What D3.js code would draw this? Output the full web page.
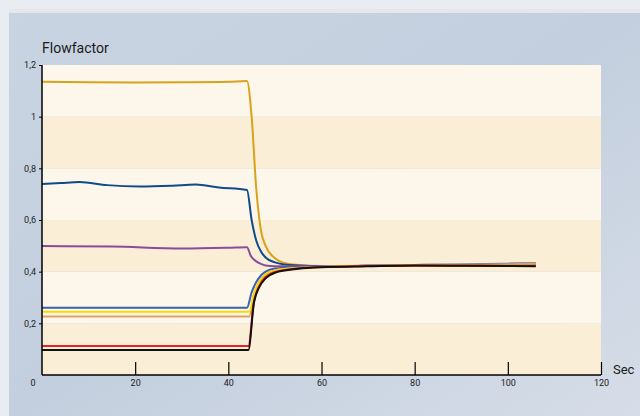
<!DOCTYPE html>
<html><head><meta charset="utf-8">
<script src="https://cdn.jsdelivr.net/npm/d3@7"></script>
<style>body{margin:0;padding:0;overflow:hidden}svg{display:block}</style>
</head><body>
<svg id="chart" width="640" height="416"></svg>
<script>
// ---- data ----
const xTicks = [20, 40, 60, 80, 100, 120];
const yTicks = [0.2, 0.4, 0.6, 0.8, 1, 1.2];
const yTickLabels = ["0,2", "0,4", "0,6", "0,8", "1", "1,2"];
const seriesNames = ["gold", "darkblue", "purple", "blue", "tan", "yellow", "red", "black"];
const seriesColors = ["#d8a21c", "#0f4a8c", "#8a4b9e", "#3c5fae", "#dea264", "#f2dc00", "#e0262a", "#111111"];

const gold = [[0,1.135],[10,1.133],[20,1.132],[30,1.133],[40,1.135],[44,1.138],[45,1.0],[46,0.72],[47,0.56],[48,0.5],[50,0.452],[52,0.434],[55,0.426],[60,0.422],[70,0.423],[80,0.425],[90,0.424],[100,0.423],[106,0.422]];
const darkblue = [[0,0.739],[4,0.743],[8,0.747],[14,0.735],[21,0.730],[28,0.733],[33,0.737],[38,0.726],[44,0.716],[45,0.6],[46,0.52],[47,0.478],[48,0.455],[50,0.436],[52,0.428],[55,0.424],[60,0.421],[70,0.423],[80,0.425],[90,0.425],[100,0.426],[106,0.427]];
const purple = [[0,0.499],[15,0.497],[30,0.490],[40,0.493],[44,0.495],[44.8,0.462],[46,0.44],[47,0.43],[48,0.424],[50,0.421],[55,0.421],[60,0.421],[70,0.423],[80,0.425],[90,0.425],[100,0.426],[106,0.428]];
const blue = [[0,0.26],[20,0.26],[44,0.26],[45,0.32],[46,0.36],[47,0.385],[48,0.4],[50,0.412],[55,0.418],[60,0.42],[70,0.423],[80,0.426],[90,0.428],[100,0.431],[106,0.433]];
const tan = [[0,0.226],[20,0.226],[44.5,0.226],[45.5,0.31],[46.5,0.355],[48,0.39],[50,0.405],[55,0.415],[60,0.419],[70,0.423],[80,0.426],[90,0.427],[100,0.429],[106,0.431]];
const yellow = [[0,0.245],[20,0.245],[44.5,0.245],[45.5,0.315],[46.5,0.355],[48,0.388],[50,0.404],[55,0.414],[60,0.418],[70,0.422],[80,0.424],[90,0.424],[100,0.424],[106,0.424]];
const red = [[0,0.112],[20,0.112],[44.3,0.112],[45.5,0.285],[46.5,0.34],[48,0.38],[50,0.399],[55,0.413],[60,0.418],[70,0.422],[80,0.424],[90,0.424],[100,0.423],[106,0.423]];
const black = [[0,0.097],[20,0.097],[44.3,0.097],[45.5,0.28],[46.5,0.335],[48,0.374],[50,0.396],[55,0.411],[60,0.417],[70,0.421],[80,0.424],[90,0.423],[100,0.422],[106,0.421]];
const seriesData = [gold, darkblue, purple, blue, tan, yellow, red, black];

// ---- drawing ----
(function () {
const svg = d3.select("#chart");
const W = 640, H = 416;
const mL = 42, mR = 601, mT = 65, mB = 375;

const defs = svg.append("defs");
const g1 = defs.append("linearGradient").attr("id","panel").attr("x1","0").attr("y1","0").attr("x2","1").attr("y2","1");
g1.append("stop").attr("offset","0").attr("stop-color","#c9d4e2");
g1.append("stop").attr("offset","0.5").attr("stop-color","#c3cfde");
g1.append("stop").attr("offset","1").attr("stop-color","#d6dde8");

svg.append("rect").attr("width",W).attr("height",H).attr("fill","#e9edf2");
svg.append("rect").attr("x",9).attr("y",9).attr("width",W-9).attr("height",4).attr("fill","#e4e8ec");
svg.append("rect").attr("x",9).attr("y",13).attr("width",W-9).attr("height",H-13).attr("fill","url(#panel)");

const x = d3.scaleLinear().domain([0,120]).range([mL,mR]);
const y = d3.scaleLinear().domain([0,1.2]).range([mB,mT]);

// stripes
const bands = d3.range(6).map(i => [i*0.2, (i+1)*0.2]);
svg.append("g").selectAll("rect").data(bands).join("rect")
  .attr("x", x(0)).attr("width", x(120)-x(0))
  .attr("y", d => y(d[1])).attr("height", d => y(d[0]) - y(d[1]))
  .attr("fill", (d,i) => i % 2 === 0 ? "#faeed6" : "#fdf6ea");

// lines
const line = d3.line().x(d => x(d[0])).y(d => y(d[1])).curve(d3.curveMonotoneX);
svg.append("g").selectAll("path").data(seriesData).join("path")
  .attr("d", line).attr("fill","none")
  .attr("stroke", (d,i) => seriesColors[i]).attr("stroke-width", 2)
  .attr("stroke-linejoin","round");

// axes
const font = "Roboto, 'Liberation Sans', sans-serif";
const xAxis = svg.append("g").attr("transform", `translate(0,${mB})`)
  .call(d3.axisBottom(x).tickValues(xTicks).tickSize(-13).tickFormat(d3.format("d")).tickPadding(18));
xAxis.select(".domain").attr("d", `M${x(0)},0H${x(120)}`).attr("stroke","#000").attr("stroke-width",1.5);
xAxis.selectAll(".tick line").attr("stroke","#000").attr("stroke-width",1.2);
xAxis.selectAll(".tick text").attr("font-size",9).attr("font-family",font).attr("fill","#222").attr("dy","0").attr("y",11);

const yAxis = svg.append("g").attr("transform", `translate(${mL},0)`)
  .call(d3.axisLeft(y).tickValues(yTicks).tickSize(3).tickPadding(3).tickFormat((d,i) => yTickLabels[i]));
yAxis.select(".domain").attr("d", `M0,${y(0)}V${y(1.2)}`).attr("stroke","#000").attr("stroke-width",1.5);
yAxis.selectAll(".tick line").attr("stroke","#000");
yAxis.selectAll(".tick text").attr("font-size",9).attr("font-family",font).attr("fill","#222");

svg.append("text").attr("x", 33).attr("y", mB + 11).attr("text-anchor","middle")
  .attr("font-size",9).attr("font-family",font).attr("fill","#222").text("0");

svg.append("text").attr("x", 42).attr("y", 53).attr("font-size",14).attr("font-family",font).attr("fill","#1a1a1a").text("Flowfactor");
svg.append("text").attr("x", 613).attr("y", 374).attr("font-size",13).attr("font-family",font).attr("fill","#1a1a1a").text("Sec");
})();
</script>
</body></html>
